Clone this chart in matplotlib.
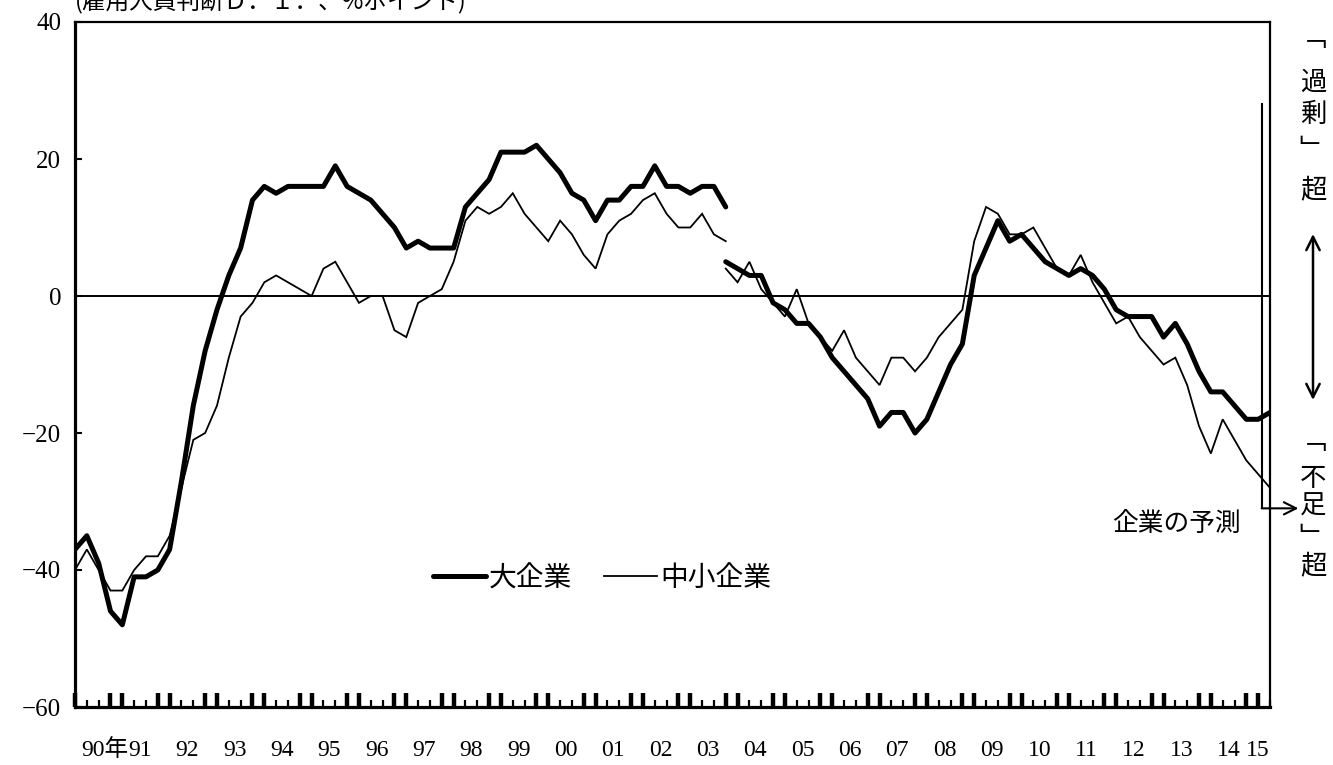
import matplotlib
matplotlib.use("Agg")
import matplotlib.pyplot as plt
from matplotlib.ticker import FixedLocator, NullFormatter
from matplotlib.transforms import blended_transform_factory
import numpy as np

plt.rcParams['font.family'] = ['Liberation Serif', 'Noto Sans CJK JP']
JP = ['Noto Sans CJK JP', 'DejaVu Sans']

# Employment conditions D.I. (quarterly, "excessive" minus "insufficient", % points)
# Old basis: 1990Q1 - 2003Q4
large_old = [-37, -35, -39, -46, -48, -41, -41, -40, -37, -27,
             -16, -8, -2, 3, 7, 14, 16, 15, 16, 16,
             16, 16, 19, 16, 15, 14, 12, 10, 7, 8,
             7, 7, 7, 13, 15, 17, 21, 21, 21, 22,
             20, 18, 15, 14, 11, 14, 14, 16, 16, 19,
             16, 16, 15, 16, 16, 13]
small_old = [-40, -37, -40, -43, -43, -40, -38, -38, -35, -28,
             -21, -20, -16, -9, -3, -1, 2, 3, 2, 1,
             0, 4, 5, 2, -1, 0, 0, -5, -6, -1,
             0, 1, 5, 11, 13, 12, 13, 15, 12, 10,
             8, 11, 9, 6, 4, 9, 11, 12, 14, 15,
             12, 10, 10, 12, 9, 8]
# New basis: 2003Q4 - 2015Q2 (the last quarter is the firms' own forecast)
large_new = [5, 4, 3, 3, -1, -2, -4, -4, -6, -9,
             -11, -13, -15, -19, -17, -17, -20, -18, -14, -10,
             -7, 3, 7, 11, 8, 9, 7, 5, 4, 3,
             4, 3, 1, -2, -3, -3, -3, -6, -4, -7,
             -11, -14, -14, -16, -18, -18, -17]
small_new = [4, 2, 5, 1, -1, -3, 1, -4, -6, -8,
             -5, -9, -11, -13, -9, -9, -11, -9, -6, -4,
             -2, 8, 13, 12, 9, 9, 10, 7, 4, 3,
             6, 2, -1, -4, -3, -6, -8, -10, -9, -13,
             -19, -23, -18, -21, -24, -26, -28]

year_labels = ['90年', '91', '92', '93', '94', '95', '96', '97', '98', '99',
               '00', '01', '02', '03', '04', '05', '06', '07', '08', '09',
               '10', '11', '12', '13', '14', '15']
series_names = ['大企業', '中小企業']

# quarter index: 0 = 1990Q1
x_old = np.arange(len(large_old))
x_new = np.arange(len(large_new)) + len(large_old) - 1
last_q = x_new[-1]
last_actual = last_q - 1

fig = plt.figure(figsize=(13.33, 7.65), dpi=100)
W, H = 1333, 765
ax = fig.add_axes([75 / W, 1 - 707 / H, 1195 / W, 685 / H])

thick = dict(color='black', lw=3.6, solid_joinstyle='round', solid_capstyle='round')
thin = dict(color='black', lw=1.3, solid_joinstyle='miter')
l_large, = ax.plot(x_old, large_old, **thick)
l_small, = ax.plot(x_old, small_old, **thin)
ax.plot(x_new, large_new, **thick)
ax.plot(x_new, small_new, **thin)
ax.axhline(0, color='black', lw=1.4, zorder=1)

ax.set_xlim(0, last_q)
ax.set_ylim(-60, 40)

# y axis
ax.yaxis.set_major_locator(FixedLocator([-60, -40, -20, 0, 20, 40]))
ax.tick_params(axis='y', direction='in', length=5, width=1.5, pad=10,
               labelsize=18, right=False)

# x axis: quarterly ticks, two short and two tall per year
quarters = np.arange(0, last_q + 1)
tall = [q for q in quarters if q % 4 in (3, 0)]
short = [q for q in quarters if q % 4 in (1, 2)]
ax.xaxis.set_major_locator(FixedLocator(tall))
ax.xaxis.set_minor_locator(FixedLocator(short))
ax.xaxis.set_major_formatter(NullFormatter())
ax.tick_params(axis='x', which='major', direction='in', length=10, width=3.2, top=False)
ax.tick_params(axis='x', which='minor', direction='in', length=5, width=1.6, top=False)

for side, lw in (('left', 2.3), ('bottom', 2.3), ('top', 1.6), ('right', 1.6)):
    ax.spines[side].set_linewidth(lw)

# year labels centred on each year's quarters (kept inside the last actual quarter)
bt = blended_transform_factory(ax.transData, ax.transAxes)
for k, lab in enumerate(year_labels):
    xc = min(4 * k + 1.5, last_actual)
    ha = 'center'
    if k == 0:
        # first label carries the "年" suffix; end it right at the next label
        xc, ha = 4.5, 'right'
    ax.text(xc, -0.063, lab, transform=bt, ha=ha, va='center', fontsize=17,
            family=['Liberation Serif', 'Noto Sans CJK JP'])

# legend
ax.legend([l_large, l_small], series_names, loc='center', bbox_to_anchor=(0.441, 0.188),
          ncol=2, frameon=False, handlelength=1.9, handletextpad=0.12,
          columnspacing=1.15, prop={'family': JP, 'size': 20})

# forecast bracket
xf = last_actual + 0.3
ax.plot([xf, xf], [28, -31], color='black', lw=1.5, clip_on=False)
ax.annotate('', xy=(last_q + 2.4, -31), xytext=(xf, -31),
            arrowprops=dict(arrowstyle='->', lw=1.5, color='black',
                            shrinkA=0, shrinkB=0, mutation_scale=22),
            annotation_clip=False)
ax.text(93.1, -33.3, '企業の予測', ha='center', va='center', fontsize=18.5, family=JP)

# unit label at top left
fig.text(75 / W, 1 - 1 / H, '(雇用人員判断Ｄ．Ｉ．、%ポイント)', ha='left', va='center',
         fontsize=17, family=JP)

# vertical captions on the right, one character per cell
xr = 1313 / W
def vertical_caption(chars, ys):
    for ch, yp in zip(chars, ys):
        fig.text(xr, 1 - yp / H, ch, ha='center', va='center', fontsize=19, family=JP)

vertical_caption('﹁過剰﹂超', [38, 82, 114, 150, 190])
vertical_caption('﹁不足﹂超', [442, 478, 506, 538, 566])
ax.annotate('', xy=(1313, H - 234), xytext=(1313, H - 400), xycoords='figure pixels',
            textcoords='figure pixels',
            arrowprops=dict(arrowstyle='<->', lw=1.8, color='black',
                            shrinkA=0, shrinkB=0, mutation_scale=24))

fig.savefig('out.png', dpi=100)
